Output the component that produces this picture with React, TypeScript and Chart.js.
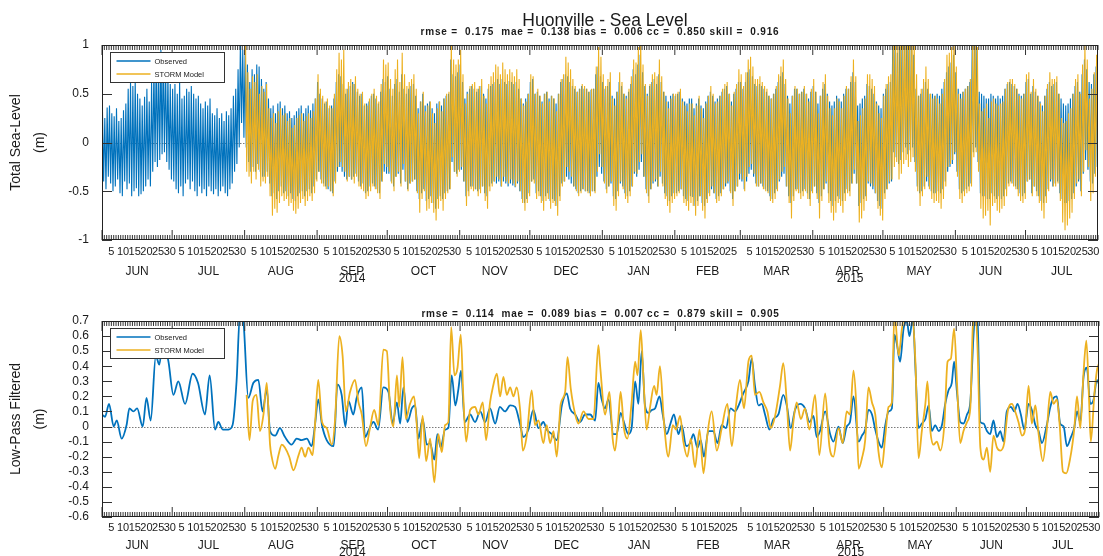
import { useEffect, useRef } from 'react';
import { Chart, registerables } from 'chart.js';

Chart.register(...registerables);

const FONT = "'Liberation Sans', Arial, Helvetica, sans-serif";
const INK = '#1a1a1a';
const OBS_COLOR = '#0072BD';
const MODEL_COLOR = '#EDB120';

// Time axis: day 0 = 1 June 2014, one tick per day
const MONTH_NAMES = ['JUN', 'JUL', 'AUG', 'SEP', 'OCT', 'NOV', 'DEC', 'JAN', 'FEB', 'MAR', 'APR', 'MAY', 'JUN', 'JUL'];
const MONTH_YEARS = [2014, 2014, 2014, 2014, 2014, 2014, 2014, 2015, 2015, 2015, 2015, 2015, 2015, 2015];
const MONTH_LENGTHS = [30, 31, 31, 30, 31, 30, 31, 31, 28, 31, 30, 31, 30, 31];
const DAY_LABELS = [5, 10, 15, 20, 25, 30];
const MODEL_FIRST_DAY = 61; // STORM model run starts 1 Aug 2014

const TOTAL_Y_TICKS = [-1, -0.5, 0, 0.5, 1];
const LOWPASS_Y_TICKS = [-0.6, -0.5, -0.4, -0.3, -0.2, -0.1, 0, 0.1, 0.2, 0.3, 0.4, 0.5, 0.6, 0.7];

const TOTAL_STATS = ['0.175', '0.138', '0.006', '0.850', '0.916'];
const LOWPASS_STATS = ['0.114', '0.089', '0.007', '0.879', '0.905'];

const SERIES_NAMES = ['Observed', 'STORM Model'];

// Total sea level: daily high / low water (m), observed gauge
const obsHigh = [
  0.32, 0.25, 0.36, 0.38, 0.30, 0.27, 0.35, 0.22, 0.25, 0.33, 0.40, 0.55, 0.62, 0.58, 0.65, 0.50, 0.45, 0.38, 0.47, 0.55, 0.42, 0.62, 0.80, 0.90, 0.85, 0.95, 0.92, 0.80, 0.70, 0.60,
  0.55, 0.60, 0.50, 0.62, 0.45, 0.48, 0.55, 0.52, 0.58, 0.50, 0.45, 0.48, 0.40, 0.35, 0.42, 0.38, 0.45, 0.30, 0.28, 0.35, 0.25, 0.30, 0.22, 0.32, 0.28, 0.35, 0.48, 0.55, 0.75, 1.05, 0.95,
  0.90, 0.80, 0.62, 0.75, 0.70, 0.80, 0.78, 0.65, 0.55, 0.62, 0.45, 0.35, 0.38, 0.30, 0.40, 0.42, 0.35, 0.38, 0.30, 0.32, 0.25, 0.28, 0.32, 0.35, 0.38, 0.30, 0.35, 0.38, 0.33, 0.40, 0.45,
  0.62, 0.50, 0.45, 0.40, 0.42, 0.35, 0.38, 0.45, 0.62, 0.70, 0.68, 0.60, 0.50, 0.55, 0.58, 0.62, 0.60, 0.52, 0.48, 0.50, 0.38, 0.40, 0.42, 0.48, 0.50, 0.45, 0.40, 0.52, 0.65, 0.62,
  0.68, 0.55, 0.48, 0.60, 0.65, 0.52, 0.70, 0.55, 0.50, 0.55, 0.58, 0.60, 0.48, 0.35, 0.42, 0.50, 0.38, 0.40, 0.42, 0.35, 0.30, 0.40, 0.42, 0.38, 0.45, 0.48, 0.50, 0.85, 0.70, 0.68, 0.72,
  0.80, 0.62, 0.45, 0.52, 0.55, 0.58, 0.55, 0.52, 0.55, 0.58, 0.50, 0.45, 0.55, 0.58, 0.60, 0.62, 0.65, 0.60, 0.65, 0.62, 0.60, 0.63, 0.62, 0.60, 0.62, 0.55, 0.45, 0.40, 0.45, 0.50,
  0.62, 0.65, 0.50, 0.52, 0.48, 0.42, 0.50, 0.52, 0.45, 0.48, 0.45, 0.40, 0.50, 0.62, 0.65, 0.70, 0.68, 0.62, 0.58, 0.55, 0.52, 0.55, 0.58, 0.55, 0.55, 0.52, 0.54, 0.55, 0.70, 0.78, 0.68,
  0.62, 0.55, 0.58, 0.62, 0.48, 0.45, 0.52, 0.62, 0.58, 0.50, 0.48, 0.52, 0.60, 0.75, 0.70, 0.80, 0.90, 0.72, 0.58, 0.50, 0.58, 0.62, 0.65, 0.60, 0.70, 0.62, 0.52, 0.48, 0.42, 0.48, 0.50,
  0.48, 0.50, 0.52, 0.45, 0.42, 0.40, 0.45, 0.45, 0.35, 0.40, 0.45, 0.38, 0.35, 0.42, 0.48, 0.52, 0.48, 0.42, 0.45, 0.48, 0.52, 0.55, 0.58, 0.50, 0.42, 0.50, 0.55, 0.62,
  0.62, 0.55, 0.62, 0.72, 0.75, 0.68, 0.60, 0.58, 0.60, 0.58, 0.55, 0.52, 0.48, 0.45, 0.50, 0.55, 0.62, 0.68, 0.72, 0.60, 0.48, 0.40, 0.48, 0.55, 0.55, 0.50, 0.52, 0.55, 0.50, 0.45, 0.52,
  0.58, 0.52, 0.40, 0.48, 0.55, 0.60, 0.50, 0.42, 0.38, 0.42, 0.48, 0.45, 0.42, 0.50, 0.55, 0.55, 0.62, 0.72, 0.62, 0.38, 0.40, 0.45, 0.48, 0.60, 0.58, 0.55, 0.50, 0.42, 0.38, 0.35,
  0.50, 0.55, 0.60, 0.62, 1.05, 1.00, 0.92, 0.98, 1.05, 1.10, 1.05, 1.08, 1.10, 0.90, 0.55, 0.48, 0.50, 0.55, 0.62, 0.55, 0.50, 0.50, 0.48, 0.50, 0.48, 0.55, 0.62, 0.72, 0.78, 0.82, 0.90,
  0.72, 0.55, 0.50, 0.52, 0.55, 0.58, 0.62, 1.02, 1.10, 0.95, 0.52, 0.50, 0.48, 0.45, 0.45, 0.50, 0.48, 0.45, 0.48, 0.45, 0.48, 0.55, 0.60, 0.62, 0.60, 0.58, 0.55, 0.50, 0.48, 0.50,
  0.62, 0.65, 0.50, 0.58, 0.52, 0.48, 0.42, 0.38, 0.48, 0.55, 0.62, 0.58, 0.60, 0.62, 0.50, 0.45, 0.40, 0.38, 0.40, 0.45, 0.50, 0.58, 0.62, 0.52, 0.70, 0.85, 0.75, 0.62, 0.60, 0.70, 0.78,
];
const obsLow = [
  -0.40, -0.48, -0.35, -0.42, -0.50, -0.45, -0.38, -0.52, -0.55, -0.40, -0.48, -0.42, -0.55, -0.50, -0.47, -0.55, -0.53, -0.50, -0.45, -0.38, -0.45, -0.30, -0.20, -0.25, -0.18, -0.12, -0.10, -0.20, -0.28, -0.38,
  -0.40, -0.48, -0.52, -0.45, -0.55, -0.42, -0.38, -0.48, -0.40, -0.50, -0.55, -0.45, -0.52, -0.48, -0.55, -0.45, -0.50, -0.53, -0.48, -0.55, -0.50, -0.45, -0.52, -0.55, -0.48, -0.42, -0.30, -0.22, -0.05, 0.20, 0.05,
  -0.05, -0.20, -0.30, -0.25, -0.30, -0.22, -0.30, -0.35, -0.35, -0.30, -0.42, -0.55, -0.52, -0.58, -0.50, -0.45, -0.52, -0.50, -0.55, -0.52, -0.58, -0.60, -0.55, -0.52, -0.50, -0.55, -0.50, -0.48, -0.52, -0.45, -0.38,
  -0.30, -0.38, -0.42, -0.45, -0.48, -0.50, -0.52, -0.40, -0.30, -0.25, -0.30, -0.35, -0.38, -0.35, -0.38, -0.35, -0.32, -0.40, -0.45, -0.42, -0.52, -0.50, -0.45, -0.42, -0.45, -0.48, -0.52, -0.40, -0.30, -0.32,
  -0.32, -0.40, -0.45, -0.35, -0.32, -0.42, -0.28, -0.40, -0.48, -0.42, -0.40, -0.38, -0.50, -0.58, -0.52, -0.48, -0.60, -0.58, -0.55, -0.62, -0.68, -0.58, -0.55, -0.58, -0.52, -0.50, -0.48, -0.20, -0.30, -0.32, -0.28,
  -0.28, -0.40, -0.55, -0.50, -0.45, -0.45, -0.48, -0.50, -0.48, -0.45, -0.52, -0.55, -0.45, -0.42, -0.40, -0.42, -0.40, -0.45, -0.40, -0.42, -0.45, -0.42, -0.44, -0.46, -0.42, -0.50, -0.58, -0.62, -0.58, -0.52,
  -0.40, -0.38, -0.52, -0.50, -0.55, -0.60, -0.55, -0.52, -0.60, -0.58, -0.60, -0.65, -0.55, -0.42, -0.40, -0.35, -0.38, -0.42, -0.45, -0.48, -0.52, -0.50, -0.48, -0.50, -0.50, -0.52, -0.50, -0.50, -0.35, -0.25, -0.32,
  -0.40, -0.48, -0.45, -0.42, -0.55, -0.58, -0.50, -0.42, -0.45, -0.52, -0.55, -0.50, -0.45, -0.32, -0.35, -0.28, -0.20, -0.35, -0.48, -0.55, -0.48, -0.42, -0.40, -0.45, -0.35, -0.42, -0.52, -0.55, -0.60, -0.55, -0.52,
  -0.52, -0.50, -0.48, -0.55, -0.58, -0.60, -0.55, -0.56, -0.65, -0.60, -0.55, -0.62, -0.65, -0.58, -0.52, -0.48, -0.52, -0.58, -0.55, -0.52, -0.48, -0.45, -0.42, -0.50, -0.58, -0.50, -0.45, -0.38,
  -0.40, -0.48, -0.40, -0.32, -0.28, -0.35, -0.42, -0.45, -0.42, -0.45, -0.48, -0.50, -0.55, -0.58, -0.52, -0.48, -0.40, -0.35, -0.32, -0.45, -0.55, -0.62, -0.55, -0.48, -0.48, -0.52, -0.50, -0.48, -0.52, -0.58, -0.50,
  -0.45, -0.52, -0.62, -0.55, -0.48, -0.42, -0.52, -0.60, -0.65, -0.60, -0.55, -0.58, -0.60, -0.52, -0.48, -0.50, -0.42, -0.32, -0.42, -0.65, -0.62, -0.58, -0.55, -0.42, -0.45, -0.48, -0.52, -0.60, -0.65, -0.68,
  -0.52, -0.48, -0.42, -0.40, -0.10, -0.15, -0.22, -0.18, -0.10, -0.05, -0.12, -0.08, -0.05, -0.20, -0.45, -0.52, -0.50, -0.45, -0.40, -0.45, -0.50, -0.52, -0.52, -0.50, -0.52, -0.48, -0.40, -0.30, -0.25, -0.22, -0.12,
  -0.30, -0.48, -0.52, -0.50, -0.48, -0.45, -0.42, -0.10, -0.05, -0.20, -0.52, -0.55, -0.55, -0.58, -0.58, -0.52, -0.55, -0.58, -0.55, -0.58, -0.55, -0.48, -0.42, -0.40, -0.42, -0.45, -0.48, -0.52, -0.55, -0.52,
  -0.40, -0.38, -0.52, -0.45, -0.50, -0.55, -0.60, -0.62, -0.55, -0.48, -0.40, -0.45, -0.42, -0.40, -0.52, -0.58, -0.62, -0.62, -0.60, -0.58, -0.52, -0.45, -0.40, -0.50, -0.32, -0.18, -0.28, -0.40, -0.42, -0.32, -0.25,
];

// Total sea level: daily high / low water (m), STORM model from 1 Aug 2014
const modHigh = [
  1.02, 0.72, 0.55, 0.68, 0.62, 0.70, 0.50, 0.58, 0.52, 0.60, 0.35, 0.25, 0.30, 0.20, 0.32, 0.35, 0.28, 0.30, 0.22, 0.25, 0.15, 0.18, 0.25, 0.28, 0.30, 0.22, 0.27, 0.30, 0.25, 0.32, 0.45,
  0.70, 0.55, 0.48, 0.42, 0.45, 0.38, 0.35, 0.50, 0.75, 0.92, 0.85, 0.95, 0.55, 0.62, 0.65, 0.60, 0.68, 0.55, 0.50, 0.52, 0.40, 0.38, 0.45, 0.50, 0.55, 0.48, 0.42, 0.60, 0.85, 0.80,
  0.82, 0.65, 0.55, 0.75, 0.85, 0.62, 0.92, 0.70, 0.58, 0.62, 0.65, 0.70, 0.55, 0.30, 0.42, 0.52, 0.32, 0.38, 0.42, 0.30, 0.20, 0.35, 0.42, 0.32, 0.45, 0.50, 0.52, 1.05, 0.85, 0.80, 0.85,
  0.95, 0.70, 0.40, 0.50, 0.58, 0.60, 0.62, 0.55, 0.58, 0.65, 0.48, 0.40, 0.60, 0.68, 0.72, 0.80, 0.78, 0.70, 0.82, 0.75, 0.70, 0.75, 0.72, 0.68, 0.75, 0.65, 0.45, 0.38, 0.42, 0.50,
  0.70, 0.68, 0.50, 0.55, 0.48, 0.40, 0.50, 0.52, 0.42, 0.48, 0.45, 0.32, 0.50, 0.65, 0.70, 0.88, 0.82, 0.75, 0.65, 0.58, 0.52, 0.55, 0.60, 0.58, 0.55, 0.52, 0.55, 0.55, 0.78, 0.98, 0.88,
  0.70, 0.58, 0.65, 0.72, 0.45, 0.38, 0.52, 0.72, 0.62, 0.50, 0.45, 0.55, 0.68, 0.85, 0.82, 0.98, 1.05, 0.80, 0.60, 0.48, 0.60, 0.70, 0.72, 0.68, 0.85, 0.68, 0.52, 0.42, 0.35, 0.45, 0.50,
  0.50, 0.52, 0.55, 0.42, 0.38, 0.32, 0.40, 0.40, 0.28, 0.38, 0.48, 0.35, 0.25, 0.40, 0.48, 0.58, 0.50, 0.40, 0.42, 0.48, 0.55, 0.60, 0.62, 0.50, 0.38, 0.52, 0.60, 0.75,
  0.70, 0.58, 0.72, 0.85, 0.88, 0.78, 0.65, 0.65, 0.68, 0.62, 0.58, 0.55, 0.48, 0.45, 0.50, 0.58, 0.70, 0.78, 0.85, 0.65, 0.45, 0.30, 0.48, 0.58, 0.55, 0.50, 0.52, 0.58, 0.50, 0.42, 0.55,
  0.65, 0.52, 0.30, 0.48, 0.62, 0.70, 0.48, 0.35, 0.28, 0.35, 0.45, 0.42, 0.35, 0.48, 0.58, 0.55, 0.68, 0.85, 0.68, 0.22, 0.28, 0.35, 0.45, 0.70, 0.70, 0.65, 0.58, 0.40, 0.30, 0.25,
  0.48, 0.60, 0.68, 0.70, 1.10, 1.15, 1.00, 1.05, 1.15, 1.20, 1.15, 1.18, 1.20, 1.05, 0.70, 0.48, 0.55, 0.65, 0.78, 0.65, 0.50, 0.45, 0.48, 0.45, 0.40, 0.50, 0.65, 0.90, 0.92, 0.98, 1.10,
  0.78, 0.50, 0.45, 0.52, 0.55, 0.58, 0.65, 1.10, 1.20, 0.98, 0.40, 0.32, 0.35, 0.40, 0.25, 0.42, 0.45, 0.40, 0.38, 0.40, 0.42, 0.55, 0.62, 0.65, 0.65, 0.60, 0.55, 0.48, 0.45, 0.50,
  0.70, 0.72, 0.52, 0.65, 0.55, 0.48, 0.40, 0.32, 0.48, 0.60, 0.72, 0.65, 0.65, 0.68, 0.50, 0.25, 0.20, 0.22, 0.30, 0.35, 0.50, 0.65, 0.70, 0.50, 0.80, 1.02, 0.85, 0.45, 0.55, 0.72, 0.90,
];
const modLow = [
  -0.30, -0.35, -0.42, -0.30, -0.38, -0.28, -0.45, -0.40, -0.42, -0.35, -0.55, -0.75, -0.68, -0.72, -0.62, -0.55, -0.60, -0.58, -0.65, -0.62, -0.70, -0.73, -0.68, -0.62, -0.58, -0.65, -0.60, -0.55, -0.60, -0.52, -0.40,
  -0.30, -0.42, -0.45, -0.48, -0.45, -0.50, -0.55, -0.42, -0.25, -0.20, -0.25, -0.30, -0.40, -0.35, -0.38, -0.42, -0.35, -0.45, -0.48, -0.50, -0.58, -0.55, -0.50, -0.45, -0.48, -0.52, -0.58, -0.40, -0.22, -0.25,
  -0.30, -0.42, -0.50, -0.35, -0.30, -0.45, -0.22, -0.40, -0.50, -0.42, -0.40, -0.38, -0.52, -0.72, -0.58, -0.50, -0.70, -0.68, -0.62, -0.72, -0.80, -0.68, -0.60, -0.70, -0.58, -0.52, -0.48, -0.15, -0.30, -0.35, -0.30,
  -0.25, -0.40, -0.65, -0.55, -0.48, -0.50, -0.48, -0.55, -0.52, -0.45, -0.60, -0.68, -0.50, -0.45, -0.40, -0.35, -0.38, -0.45, -0.35, -0.40, -0.42, -0.38, -0.42, -0.45, -0.40, -0.50, -0.62, -0.70, -0.62, -0.55,
  -0.40, -0.42, -0.58, -0.55, -0.62, -0.70, -0.60, -0.58, -0.68, -0.62, -0.65, -0.75, -0.60, -0.45, -0.40, -0.25, -0.30, -0.35, -0.45, -0.50, -0.55, -0.52, -0.48, -0.50, -0.52, -0.55, -0.50, -0.52, -0.30, -0.12, -0.25,
  -0.42, -0.52, -0.45, -0.40, -0.65, -0.70, -0.55, -0.40, -0.48, -0.58, -0.62, -0.55, -0.45, -0.30, -0.32, -0.20, -0.12, -0.35, -0.52, -0.62, -0.48, -0.40, -0.38, -0.45, -0.30, -0.45, -0.58, -0.65, -0.72, -0.62, -0.58,
  -0.55, -0.52, -0.48, -0.62, -0.65, -0.70, -0.62, -0.65, -0.75, -0.65, -0.55, -0.70, -0.78, -0.62, -0.55, -0.45, -0.52, -0.62, -0.60, -0.55, -0.48, -0.42, -0.40, -0.52, -0.65, -0.50, -0.45, -0.32,
  -0.38, -0.50, -0.35, -0.25, -0.22, -0.32, -0.45, -0.45, -0.42, -0.48, -0.50, -0.52, -0.60, -0.62, -0.58, -0.50, -0.38, -0.30, -0.25, -0.45, -0.62, -0.78, -0.60, -0.50, -0.52, -0.58, -0.55, -0.50, -0.58, -0.65, -0.52,
  -0.45, -0.58, -0.78, -0.60, -0.48, -0.40, -0.62, -0.72, -0.80, -0.72, -0.62, -0.65, -0.72, -0.60, -0.52, -0.55, -0.42, -0.28, -0.42, -0.82, -0.78, -0.70, -0.60, -0.40, -0.42, -0.45, -0.52, -0.68, -0.75, -0.80,
  -0.58, -0.48, -0.40, -0.38, -0.25, -0.20, -0.38, -0.32, -0.22, -0.18, -0.25, -0.20, -0.15, -0.30, -0.50, -0.65, -0.55, -0.48, -0.35, -0.48, -0.58, -0.62, -0.60, -0.62, -0.68, -0.58, -0.45, -0.25, -0.22, -0.18, -0.10,
  -0.35, -0.58, -0.62, -0.55, -0.52, -0.50, -0.45, -0.15, -0.10, -0.30, -0.68, -0.78, -0.75, -0.70, -0.85, -0.65, -0.62, -0.70, -0.72, -0.68, -0.65, -0.55, -0.45, -0.42, -0.45, -0.48, -0.55, -0.60, -0.62, -0.58,
  -0.40, -0.38, -0.55, -0.45, -0.55, -0.62, -0.70, -0.78, -0.62, -0.50, -0.38, -0.45, -0.45, -0.42, -0.60, -0.82, -0.90, -0.85, -0.78, -0.72, -0.58, -0.42, -0.38, -0.55, -0.30, -0.08, -0.25, -0.60, -0.52, -0.35, -0.22,
];

// Low-pass filtered sea level (m): turning points, day offset and value
const lpObsDay = [
  0, 1.3, 3, 5, 6.3, 8.4, 10.5, 11.7, 13.4, 15, 17.4, 19, 20.8, 23, 24.5, 26, 28.4, 30.5, 32.6, 35.5, 38.7, 41, 44, 46, 48.3, 49.7, 51.6, 54, 55.8, 57.5, 59, 60.3,
  62.5, 64.7, 66.8, 68.6, 70.4, 71.8, 74, 76, 78.2, 81, 83.2, 85.3, 87.5, 89.6, 91, 92.4, 94, 96, 99, 100.6, 102.4, 104, 105.3, 107.4, 108.8, 111, 112.4, 113.8, 116, 118,
  120.2, 122.4, 124.2, 126, 127.4, 128.8, 130.5, 132.4, 133.8, 135.2, 137, 138.8, 140.2, 142, 143.3, 144.7, 146.6, 148, 149.4, 151, 152.3, 153.4, 155, 157.3, 159.4, 161.6, 163.7, 165.8, 168, 170,
  172.2, 174.4, 176.5, 178.7, 180, 182.2, 184.3, 186.5, 188.6, 190, 192.2, 194.3, 196.5, 198.6, 200, 202.2, 204.3, 206.4, 208.6, 210.7, 212.1, 213.5, 214.9, 216.4, 218.5, 219.9, 221.6, 223, 224.9, 226.3,
  227.8, 229.2, 230.6, 232, 233.5, 234.9, 236.3, 238.2, 239.6, 241.3, 242.7, 244.4, 246.3, 247.7, 249.6, 251.3, 252.7, 254.4, 255.8, 257.2, 259.1, 261.2, 263, 264.8, 266.6, 268.6, 270.5, 272.3, 274, 276.2,
  277.6, 279, 280.5, 281.9, 283.3, 285.2, 286.9, 289, 291.1, 292.6, 294.3, 296.1, 298.3, 300.4, 302.3, 304, 305.4, 306.8, 309, 311.1, 312.5, 314.7, 316.5, 318.2, 319.6, 321.1, 323.3, 324.7, 326.1, 327.5,
  329, 330.4, 331.8, 333.2, 334.7, 336.1, 337.5, 338.6, 339.6, 341, 342.5, 343.9, 345, 346.5, 347.5, 348.9, 350.3, 351.8, 353.2, 354.6, 356, 357.5, 358.9, 360.3, 361.7, 363.1, 364.1, 365.3, 366.7, 368.1,
  369.6, 371, 372.4, 373.1, 374.1, 375.3, 376.7, 378.1, 379.5, 380.9, 382.4, 383.8, 385.2, 386.6, 388.4, 389.8, 391.2, 392.6, 394.1, 395.9, 397.3, 398.8, 400.2, 401.6, 403.7, 405.2, 406.6, 408, 409.4, 410.9,
  412.3, 414, 415.4, 416.6, 418, 419.4, 420.8, 422.3, 423.7, 425.1, 426,
];
const lpObsVal = [
  0.08, 0.065, 0.15, 0.0, 0.04, -0.08, 0.01, 0.12, 0.10, 0.12, 0.0, 0.19, 0.04, 0.47, 0.41, 0.58, 0.43, 0.21, 0.30, 0.15, 0.35, 0.29, 0.08, 0.34, -0.02, 0.03, -0.02, -0.02, 0.01, 0.30, 0.76, 0.72,
  0.19, 0.29, 0.31, 0.10, 0.25, -0.03, -0.06, -0.01, -0.07, -0.12, -0.08, -0.09, -0.08, -0.13, 0.01, 0.18, 0.01, -0.09, -0.13, 0.28, 0.21, 0.0, 0.17, 0.08, 0.19, 0.26, -0.07, -0.03, 0.03, -0.02,
  0.26, 0.23, 0.02, 0.16, 0.02, 0.26, 0.03, 0.12, 0.14, -0.08, 0.05, -0.12, -0.11, -0.22, -0.05, -0.14, -0.02, -0.01, 0.34, 0.14, 0.25, 0.37, 0.03, 0.08, 0.03, 0.10, 0.03, 0.12, 0.02, 0.13,
  0.10, 0.14, 0.13, 0.01, -0.07, -0.02, 0.11, -0.01, 0.03, -0.02, -0.05, -0.09, 0.14, 0.22, 0.12, 0.08, 0.03, 0.08, 0.08, 0.04, 0.29, 0.18, 0.12, 0.18, -0.05, -0.05, 0.09, 0.03, -0.05, -0.01,
  0.30, 0.15, 0.50, 0.14, 0.09, 0.11, 0.12, 0.20, 0.08, -0.05, 0.01, 0.08, -0.05, 0.01, -0.13, -0.11, -0.05, -0.14, -0.09, -0.20, -0.03, -0.03, -0.11, 0.01, -0.01, 0.12, 0.10, 0.15, 0.22, 0.30,
  0.45, 0.27, 0.14, 0.15, 0.08, -0.02, 0.05, 0.08, 0.21, 0.14, -0.01, 0.11, 0.15, 0.12, 0.03, 0.07, -0.07, -0.03, 0.10, -0.05, -0.10, 0.0, -0.11, 0.0, 0.03, 0.20, -0.10, -0.06, -0.02, 0.11,
  0.08, -0.02, -0.10, -0.14, 0.01, 0.10, 0.12, 0.61, 0.55, 0.43, 0.65, 0.70, 0.60, 0.72, 0.41, -0.01, 0.02, 0.05, 0.14, -0.03, 0.01, -0.03, 0.01, 0.15, 0.24, 0.29, 0.43, 0.23, 0.03, 0.02,
  0.08, 0.16, 0.61, 0.74, 0.70, 0.03, 0.02, -0.03, -0.05, 0.04, -0.07, -0.03, -0.10, 0.10, 0.13, 0.10, 0.15, 0.08, -0.02, 0.15, 0.11, 0.01, -0.03, -0.11, 0.01, 0.13, 0.19, 0.20, 0.02, 0.0,
  -0.13, -0.07, -0.01, 0.10, 0.03, 0.33, 0.39, 0.15, 0.18, 0.31, 0.28,
];
const lpModDay = [
  61.8, 63, 64.4, 66, 67.5, 69, 70.4, 71.8, 72.5, 74, 75.4, 76.8, 78.2, 80, 81.8, 84, 85.3, 86.8, 88.2, 90, 91, 92.4, 94, 96, 98.2, 99.6, 101.4, 102.8, 104.2, 106,
  108.1, 109.6, 111, 112.8, 114.5, 116.3, 118.1, 120.2, 121.7, 123.1, 124.5, 126, 127, 128.4, 129.8, 131.6, 133.3, 134.5, 135.5, 137, 138.5, 140.2, 142, 143.7, 145.2, 146.6, 148, 149.2, 150.6, 151.9,
  153.3, 154.4, 155.6, 157.3, 159.4, 160.8, 162.7, 164.1, 165.8, 167, 168.7, 170.1, 171.5, 173, 174.4, 175.8, 177.2, 178.7, 179.8, 181.5, 183.6, 185, 186.5, 188.6, 190, 191.5, 192.9, 194.3, 196, 197.9,
  198.9, 200.3, 202.2, 203.6, 205.7, 207.9, 210, 212.1, 212.8, 215, 216.8, 218.2, 219.2, 220.6, 221.6, 223, 224.5, 226.3, 227.8, 228.8, 230.2, 231.3, 232.7, 234.2, 235.9, 237, 238.4, 240.1, 242, 243.9,
  245.3, 247, 248.4, 250.1, 251.6, 253.4, 255.3, 257, 258.7, 260.5, 262.7, 264.8, 267.2, 269.1, 270.9, 272.6, 274.3, 276.2, 277.6, 279, 280.9, 282.6, 284.3, 285.7, 287.6, 289.7, 291.1, 292.6, 294, 295.4,
  296.8, 298.6, 300.4, 302.3, 304.7, 306.5, 309, 310.8, 312.5, 314.7, 316.5, 318.2, 319.6, 321.1, 322.3, 323.3, 324.7, 326.1, 327.5, 329, 330.4, 331.8, 333.2, 334.7, 336.1, 337.5, 338.6, 340.4, 341.8, 343.2,
  344.6, 346, 347.5, 348.9, 350.3, 351.8, 352.7, 353.9, 355.3, 356.7, 358.2, 359.9, 361.3, 362.7, 364.1, 365.3, 366.7, 368.1, 369.6, 371, 372.1, 373.1, 374.1, 375.3, 376.7, 378.1, 379.5, 380.9, 382.4, 383.8,
  385.5, 387, 388.8, 390.2, 391.6, 393.1, 394.5, 395.9, 397.3, 398.8, 400.2, 402, 403.7, 405.2, 406.6, 408, 409.2, 410.6, 412, 413.7, 415.4, 416.6, 418, 419.4, 420.6, 421.7, 422.5, 424, 425.1, 426,
];
const lpModVal = [
  0.21, -0.09, 0.17, 0.21, -0.03, 0.08, 0.29, -0.12, -0.20, -0.28, -0.19, -0.12, -0.14, -0.20, -0.29, -0.19, -0.14, -0.20, -0.14, -0.19, 0.01, 0.31, 0.03, -0.01, -0.12, 0.05, 0.60, 0.47, 0.10, 0.23,
  0.31, 0.16, 0.08, -0.13, -0.01, 0.11, 0.01, 0.51, 0.50, 0.12, 0.0, 0.34, 0.13, 0.46, 0.05, 0.15, 0.20, 0.01, -0.21, 0.07, -0.23, -0.08, -0.37, -0.05, -0.17, 0.01, 0.03, 0.66, 0.34, 0.39,
  0.61, 0.19, -0.10, 0.11, 0.13, 0.08, 0.16, -0.09, 0.16, 0.26, 0.35, 0.20, 0.33, 0.21, 0.26, 0.20, 0.26, 0.10, -0.16, -0.06, 0.24, 0.01, 0.04, -0.11, 0.01, -0.11, -0.03, -0.20, 0.15, 0.23,
  0.46, 0.25, 0.08, 0.02, 0.10, 0.05, 0.05, 0.54, 0.41, 0.08, 0.23, -0.08, -0.16, 0.05, 0.23, -0.01, -0.08, 0.16, 0.43, 0.34, 0.64, 0.34, -0.02, 0.13, 0.27, 0.21, 0.40, 0.03, -0.20, 0.01,
  -0.02, 0.07, -0.10, -0.20, -0.08, -0.27, -0.02, -0.31, -0.05, 0.10, -0.16, -0.01, 0.15, -0.13, 0.14, 0.31, 0.12, 0.43, 0.47, 0.21, 0.23, 0.16, 0.10, -0.01, 0.07, 0.27, 0.42, 0.16, -0.16, 0.03,
  0.16, 0.05, 0.12, -0.02, 0.21, -0.19, 0.22, -0.13, -0.20, -0.01, -0.11, 0.10, 0.08, 0.37, 0.14, -0.28, -0.21, -0.09, 0.26, 0.16, 0.08, -0.17, -0.27, -0.06, 0.13, 0.16, 0.76, 0.47, 0.65, 0.76,
  0.72, 0.76, 0.45, -0.21, -0.03, 0.15, 0.30, -0.02, -0.12, -0.10, -0.16, 0.01, 0.43, 0.45, 0.65, 0.30, -0.11, -0.03, 0.03, 0.12, 0.67, 0.76, 0.52, -0.14, -0.22, -0.14, -0.30, -0.06, -0.14, -0.16,
  -0.11, 0.10, 0.15, 0.10, 0.03, -0.06, -0.01, 0.27, 0.02, 0.14, -0.05, -0.23, -0.02, 0.23, 0.15, 0.18, 0.01, -0.30, -0.31, -0.21, -0.02, 0.20, -0.01, 0.36, 0.57, 0.20, -0.10, 0.21, 0.37, 0.42,
];

// ---- derived axis helpers ----
const MONTH_STARTS: number[] = [];
MONTH_LENGTHS.forEach((len, i) => {
  MONTH_STARTS.push(i === 0 ? 0 : MONTH_STARTS[i - 1] + MONTH_LENGTHS[i - 1]);
});
const AXIS_END = MONTH_STARTS[MONTH_STARTS.length - 1] + MONTH_LENGTHS[MONTH_LENGTHS.length - 1];
const DAY_TICKS = Array.from({ length: AXIS_END + 1 }, (_, d) => d);

function dayLabel(v: number): string {
  for (let i = 0; i < MONTH_STARTS.length; i++) {
    const dom = v - MONTH_STARTS[i] + 1;
    if (dom >= 1 && dom <= MONTH_LENGTHS[i]) return DAY_LABELS.includes(dom) ? String(dom) : '';
  }
  return '';
}

function statsLine(s: string[]): string {
  return `rmse =  ${s[0]}  mae =  ${s[1]} bias =  ${s[2]} cc =  ${s[3]} skill =  ${s[4]}`;
}

function tidePoints(high: number[], low: number[], firstDay: number, hiAt: number, loAt: number) {
  const pts: { x: number; y: number }[] = [];
  high.forEach((h, i) => {
    pts.push({ x: firstDay + i + hiAt, y: h });
    pts.push({ x: firstDay + i + loAt, y: low[i] });
  });
  return pts;
}

function pairPoints(days: number[], vals: number[]) {
  return days.map((d, i) => ({ x: d, y: vals[i] }));
}

// Axes box with inward ticks, zero line, legend, date rows and labels
const framePlugin = {
  id: 'frame',
  beforeDatasetsDraw(chart: any) {
    const { ctx, chartArea: a, scales } = chart;
    const y0 = Math.round(scales.y.getPixelForValue(0)) + 0.5;
    ctx.save();
    ctx.strokeStyle = '#7a7a7a';
    ctx.lineWidth = 1;
    ctx.setLineDash([1.5, 1.5]);
    ctx.beginPath();
    ctx.moveTo(a.left, y0);
    ctx.lineTo(a.right, y0);
    ctx.stroke();
    ctx.restore();
  },
  afterDatasetsDraw(chart: any) {
    const { ctx, chartArea: a, scales } = chart;
    const x = scales.x;
    const y = scales.y;
    ctx.save();
    ctx.strokeStyle = '#333';
    ctx.lineWidth = 1;
    ctx.beginPath();
    for (const t of x.ticks) {
      const px = x.getPixelForValue(t.value);
      const major = MONTH_STARTS.includes(t.value);
      const len = major ? 10 : 5;
      ctx.moveTo(px, a.bottom);
      ctx.lineTo(px, a.bottom - len);
      ctx.moveTo(px, a.top);
      ctx.lineTo(px, a.top + len);
    }
    for (const t of y.ticks) {
      const py = Math.round(y.getPixelForValue(t.value)) + 0.5;
      ctx.moveTo(a.left, py);
      ctx.lineTo(a.left + 10, py);
      ctx.moveTo(a.right, py);
      ctx.lineTo(a.right - 10, py);
    }
    ctx.stroke();
    ctx.strokeStyle = '#222';
    ctx.strokeRect(a.left + 0.5, a.top + 0.5, a.right - a.left - 1, a.bottom - a.top - 1);
    ctx.restore();
  },
  afterDraw(chart: any, _args: any, opts: any) {
    const { ctx, chartArea: a, scales } = chart;
    const x = scales.x;
    ctx.save();
    ctx.fillStyle = INK;
    ctx.textAlign = 'center';
    ctx.textBaseline = 'alphabetic';

    if (opts.title) {
      ctx.font = `17.5px ${FONT}`;
      ctx.fillText(opts.title, opts.titleX, opts.titleBase);
    }
    ctx.font = `bold 10px ${FONT}`;
    ctx.letterSpacing = '0.8px';
    ctx.fillText(statsLine(opts.stats), (a.left + a.right) / 2, opts.statsBase);
    ctx.letterSpacing = '0px';

    // month and year rows
    ctx.textBaseline = 'middle';
    ctx.font = `12px ${FONT}`;
    MONTH_NAMES.forEach((m, i) => {
      const cx = x.getPixelForValue(MONTH_STARTS[i] + MONTH_LENGTHS[i] / 2);
      ctx.fillText(m, cx, a.bottom + opts.monthDy);
    });
    const years = Array.from(new Set(MONTH_YEARS));
    years.forEach((yr) => {
      const idx = MONTH_YEARS.map((v, i) => (v === yr ? i : -1)).filter((i) => i >= 0);
      const first = MONTH_STARTS[idx[0]];
      const last = MONTH_STARTS[idx[idx.length - 1]] + MONTH_LENGTHS[idx[idx.length - 1]];
      ctx.fillText(String(yr), x.getPixelForValue((first + last) / 2), a.bottom + opts.yearDy);
    });

    // y-axis title
    const cy = (a.top + a.bottom) / 2;
    ctx.font = `14px ${FONT}`;
    ctx.translate(opts.yTitleX, cy);
    ctx.rotate(-Math.PI / 2);
    ctx.fillText(opts.yTitle, 0, 0);
    ctx.setTransform(1, 0, 0, 1, 0, 0);
    ctx.translate(opts.yUnitX, cy);
    ctx.rotate(-Math.PI / 2);
    ctx.fillText('(m)', 0, 0);
    ctx.setTransform(1, 0, 0, 1, 0, 0);

    // legend box
    const lx = a.left + 8.5;
    const ly = a.top + 7.5;
    ctx.fillStyle = '#fff';
    ctx.fillRect(lx, ly, 114, 30);
    ctx.strokeStyle = '#333';
    ctx.lineWidth = 1;
    ctx.strokeRect(lx, ly, 114, 30);
    ctx.font = `7.5px ${FONT}`;
    ctx.textAlign = 'left';
    [OBS_COLOR, MODEL_COLOR].forEach((c, i) => {
      const ry = ly + 8.5 + i * 13;
      ctx.strokeStyle = c;
      ctx.lineWidth = 1.6;
      ctx.beginPath();
      ctx.moveTo(lx + 6, ry);
      ctx.lineTo(lx + 40, ry);
      ctx.stroke();
      ctx.fillStyle = INK;
      ctx.fillText(SERIES_NAMES[i], lx + 44, ry + 0.5);
    });
    ctx.restore();
  },
};

function makeScales(yMin: number, yMax: number, yTicks: number[], xAxisHeight: number, xPad: number) {
  return {
    x: {
      type: 'linear',
      min: 0,
      max: AXIS_END,
      afterBuildTicks: (scale: any) => {
        scale.ticks = DAY_TICKS.map((v) => ({ value: v }));
      },
      afterFit: (scale: any) => {
        scale.height = xAxisHeight;
      },
      grid: { display: false, drawTicks: false },
      border: { display: false },
      ticks: {
        autoSkip: false,
        maxRotation: 0,
        minRotation: 0,
        padding: xPad,
        color: INK,
        font: { family: FONT, size: 11 },
        callback: (v: number) => dayLabel(v),
      },
    },
    y: {
      type: 'linear',
      min: yMin,
      max: yMax,
      afterBuildTicks: (scale: any) => {
        scale.ticks = yTicks.map((v) => ({ value: v }));
      },
      afterFit: (scale: any) => {
        scale.width = 102;
      },
      grid: { display: false, drawTicks: false },
      border: { display: false },
      ticks: {
        autoSkip: false,
        padding: 13,
        color: INK,
        font: { family: FONT, size: 12 },
        callback: (v: number) => (v === 0 ? '0' : String(Math.round(v * 10) / 10)),
      },
    },
  };
}

function baseOptions(scales: any, padTop: number, frame: any) {
  return {
    responsive: false,
    animation: false,
    devicePixelRatio: 1,
    layout: { padding: { left: 0, right: 4, top: padTop, bottom: 0 } },
    scales,
    plugins: {
      legend: { display: false },
      tooltip: { enabled: false },
      frame,
    },
  };
}

function totalConfig(): any {
  return {
    type: 'line',
    data: {
      datasets: [
        {
          label: SERIES_NAMES[0],
          data: tidePoints(obsHigh, obsLow, 0, 0.2, 0.7),
          borderColor: OBS_COLOR,
          borderWidth: 1.1,
          pointRadius: 0,
          tension: 0,
          order: 2,
        },
        {
          label: SERIES_NAMES[1],
          data: tidePoints(modHigh, modLow, MODEL_FIRST_DAY, 0.4, 0.9),
          borderColor: MODEL_COLOR,
          borderWidth: 1.1,
          pointRadius: 0,
          tension: 0,
          order: 1,
        },
      ],
    },
    options: baseOptions(makeScales(-1, 1, TOTAL_Y_TICKS, 50, 5), 45, {
      title: 'Huonville - Sea Level',
      titleX: 605,
      titleBase: 26,
      stats: TOTAL_STATS,
      statsBase: 35,
      monthDy: 32,
      yearDy: 39,
      yTitle: 'Total Sea-Level',
      yTitleX: 16,
      yUnitX: 40,
    }),
    plugins: [framePlugin],
  };
}

function lowpassConfig(): any {
  return {
    type: 'line',
    data: {
      datasets: [
        {
          label: SERIES_NAMES[0],
          data: pairPoints(lpObsDay, lpObsVal),
          borderColor: OBS_COLOR,
          borderWidth: 1.8,
          pointRadius: 0,
          tension: 0.4,
          cubicInterpolationMode: 'monotone',
          order: 2,
        },
        {
          label: SERIES_NAMES[1],
          data: pairPoints(lpModDay, lpModVal),
          borderColor: MODEL_COLOR,
          borderWidth: 1.8,
          pointRadius: 0,
          tension: 0.4,
          cubicInterpolationMode: 'monotone',
          order: 1,
        },
      ],
    },
    options: baseOptions(makeScales(-0.6, 0.7, LOWPASS_Y_TICKS, 39, 4), 31, {
      stats: LOWPASS_STATS,
      statsBase: 26.5,
      monthDy: 29,
      yearDy: 36,
      yTitle: 'Low-Pass Filtered',
      yTitleX: 16,
      yUnitX: 40,
    }),
    plugins: [framePlugin],
  };
}

export default function App() {
  const topRef = useRef<HTMLCanvasElement>(null);
  const bottomRef = useRef<HTMLCanvasElement>(null);

  useEffect(() => {
    const charts = [
      new Chart(topRef.current as HTMLCanvasElement, totalConfig()),
      new Chart(bottomRef.current as HTMLCanvasElement, lowpassConfig()),
    ];
    return () => charts.forEach((c) => c.destroy());
  }, []);

  return (
    <div style={{ position: 'absolute', left: 0, top: 0, width: 1103, height: 556, background: '#fff', overflow: 'hidden' }}>
      <canvas ref={topRef} width={1103} height={290} style={{ position: 'absolute', left: 0, top: 0 }} />
      <canvas ref={bottomRef} width={1103} height={266} style={{ position: 'absolute', left: 0, top: 290 }} />
    </div>
  );
}
